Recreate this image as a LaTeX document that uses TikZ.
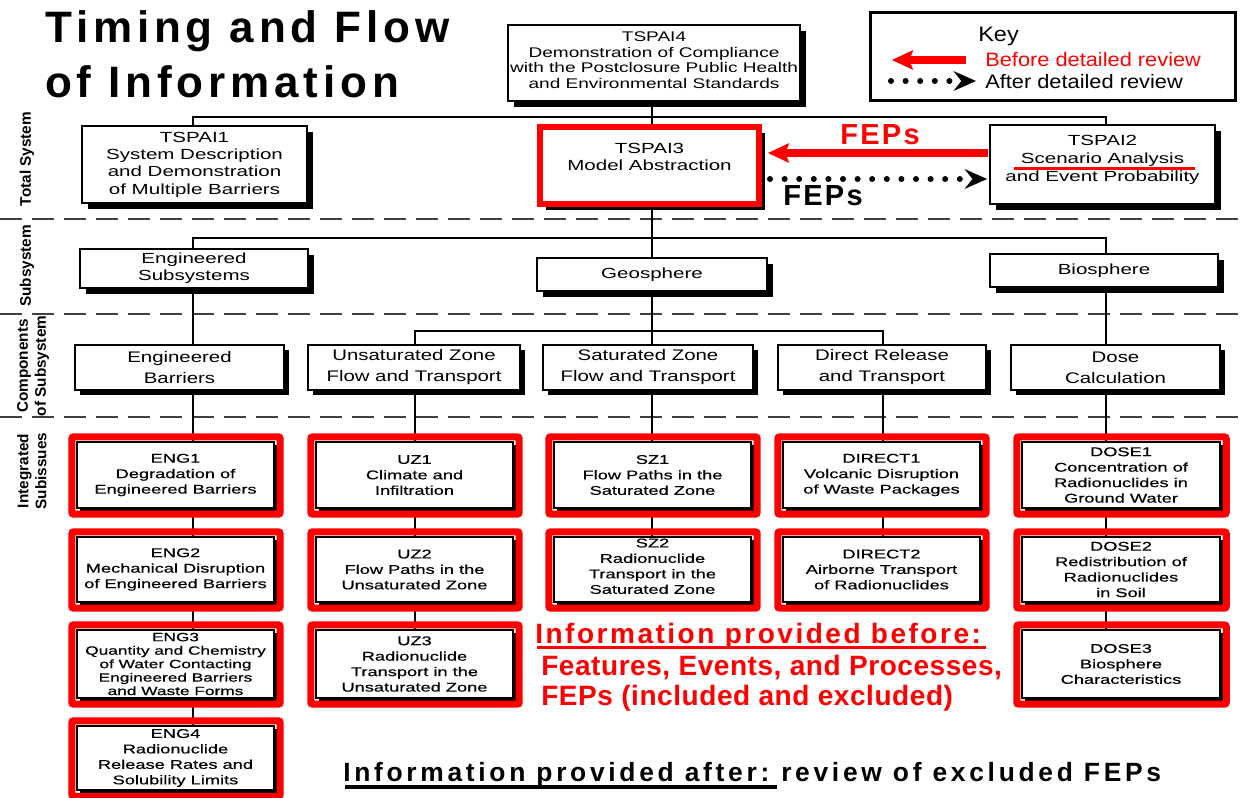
\documentclass[tikz,border=0pt]{standalone}
\usepackage{fontspec}
\setmainfont{Liberation Sans}
\newfontfamily\fTitle[LetterSpace=11]{Liberation Sans}
\newfontfamily\fTop[FakeStretch=1.40]{Liberation Sans}
\newfontfamily\fFour[FakeStretch=1.36]{Liberation Sans}
\newfontfamily\fComp[FakeStretch=1.33]{Liberation Sans}
\newfontfamily\fIss[FakeStretch=1.44,FakeBold=0.5]{Liberation Sans}
\newfontfamily\fKey[FakeStretch=1.12]{Liberation Sans}
\newfontfamily\fFeps[LetterSpace=8]{Liberation Sans}
\newfontfamily\fRedA[LetterSpace=9]{Liberation Sans}
\newfontfamily\fRedB[LetterSpace=2]{Liberation Sans}
\newfontfamily\fAfter[LetterSpace=14]{Liberation Sans}
\newfontfamily\fLab{Liberation Sans}
\usetikzlibrary{arrows.meta,shadows,calc,backgrounds}
\newdimen\px \px=0.75pt
\begin{document}
\begin{tikzpicture}[x=0.75pt,y=-0.75pt,
  conn/.style={draw=black, line width=1.2pt},
  secline/.style={draw=black!75, line width=1.5pt, dash pattern=on 16.5pt off 7.5pt},
  shad/.style={drop shadow={shadow xshift=#1, shadow yshift=-#1, fill=black, opacity=1}},
  topbox/.style={draw=black, line width=1.3pt, fill=white, inner sep=0pt, align=center, shad=4.5pt,
     font={\fTop\fontsize{11pt}{13pt}\selectfont}},
  fourbox/.style={topbox, font={\fFour\fontsize{10.5pt}{11.6pt}\selectfont}},
  compbox/.style={draw=black, line width=1.3pt, fill=white, inner sep=0pt, align=center, shad=4pt,
     minimum height=45\px, font={\fComp\fontsize{11.5pt}{15.75pt}\selectfont}},
  iss/.style={draw=black, line width=1.1pt, fill=white, inner sep=0pt, align=center, shad=2.5pt,
     minimum width=197\px, font={\fIss\fontsize{9.5pt}{11.6pt}\selectfont}},
  redframe/.style={draw=red, line width=5.25pt, rounded corners=1.5pt},
  txt/.style={anchor=base west, inner sep=0pt},
  lab/.style={rotate=90, inner sep=0pt, align=center, font={\fLab\bfseries\fontsize{11.5pt}{13.5pt}\selectfont}},
  redarrow/.style={draw=red, line width=6pt, -{Stealth[length=16pt, width=15pt, inset=3pt, line width=0pt]}},
  dotarrow/.style={draw=black, line width=4.5pt, line cap=round, dash pattern=on 0pt off 10.95pt,
     -{Stealth[length=17pt, width=15pt, inset=6pt, line width=0pt]}}
]
\useasboundingbox (0,0) rectangle (1248,797);
\begin{pgfonlayer}{background}
  \fill[white] (0,0) rectangle (1248,797);
\end{pgfonlayer}

% column and row helper coordinates
\coordinate (c1) at (193,0);
\coordinate (c2) at (415,0);
\coordinate (c3) at (652,0);
\coordinate (c4) at (883,0);
\coordinate (c5) at (1106,0);
\coordinate (h1) at (0,117);
\coordinate (h2) at (0,238);
\coordinate (h3) at (0,331);

% title
\node[txt, font={\fTitle\bfseries\fontsize{33pt}{40pt}\selectfont}] (title1) at (45,42) {Timing and Flow};
\node[txt, font={\fTitle\bfseries\fontsize{33pt}{40pt}\selectfont}] (title2) at (45,97) {of Information};

% key
\node[draw=black, line width=2.25pt, minimum width=365\px, minimum height=88\px, inner sep=0pt] (key) at (1053,56.5) {};
\node[txt, font={\fKey\fontsize{15.75pt}{18pt}\selectfont}] (keyt) at (978,41) {Key};
\node[txt, text=red, font={\fKey\fontsize{14.6pt}{17pt}\selectfont}] (keyb) at (985,66) {Before detailed review};
\node[txt, font={\fKey\fontsize{14.6pt}{17pt}\selectfont}] (keya) at (985,88) {After detailed review};
\coordinate (kr1) at (966,60);
\coordinate (kr2) at (892,60);
\draw[redarrow] (kr1) -- (kr2);
\coordinate (kd1) at (891,81);
\coordinate (kd2) at (976,81);
\draw[dotarrow] (kd1) -- (kd2);

% total system row
\node[fourbox, minimum width=292\px, minimum height=76\px, text depth=4.5pt] (tspai4) at (654,63)
  {TSPAI4\\Demonstration of Compliance\\with the Postclosure Public Health\\and Environmental Standards};
\node[topbox, minimum width=225\px, minimum height=77\px] (tspai1) at (194.5,164.5)
  {TSPAI1\\System Description\\and Demonstration\\of Multiple Barriers};
\node[topbox, draw=red, line width=4.5pt, minimum width=219\px, minimum height=77\px] (tspai3) at (649.5,165.5)
  {TSPAI3\\Model Abstraction\\\mbox{}};
\node[topbox, minimum width=225\px, minimum height=79\px, text depth=8.5pt, font={\fTop\fontsize{11pt}{13.5pt}\selectfont}] (tspai2) at (1102.5,164.5)
  {TSPAI2\\Scenario Analysis\\and Event Probability};
\draw[red, line width=2.25pt] ($(tspai2.north west)+(25,44)$) -- ($(tspai2.north west)+(206,44)$);

\draw[redarrow] ($(tspai2.west)+(-1,-11.5)$) -- ($(tspai3.east)+(6,-12.5)$);
\draw[dotarrow] ($(tspai3.east)+(8,13.5)$) -- ($(tspai2.west)+(-2,14.5)$);
\node[txt, text=red, font={\fFeps\bfseries\fontsize{21.75pt}{24pt}\selectfont}] (fepr) at (840,144) {FEPs};
\node[txt, font={\fFeps\bfseries\fontsize{21.75pt}{24pt}\selectfont}] (fepb) at (783,205) {FEPs};

% subsystem row
\node[topbox, minimum width=228\px, minimum height=39\px] (es) at (194,268.5) {Engineered\\Subsystems};
\node[topbox, minimum width=230\px, minimum height=33\px] (geo) at (652,274.5) {Geosphere};
\node[topbox, minimum width=228\px, minimum height=33\px] (bio) at (1104,270.5) {Biosphere};

% components row
\node[compbox, minimum width=209\px] (eb) at (179.5,367.5) {Engineered\\Barriers};
\node[compbox, minimum width=212\px] (uz) at (414,367.5) {Unsaturated Zone\\Flow and Transport};
\node[compbox, minimum width=210\px] (sz) at (648,367.5) {Saturated Zone\\Flow and Transport};
\node[compbox, minimum width=208\px] (dr) at (882,367.5) {Direct Release\\and Transport};
\node[compbox, minimum width=209\px] (dose) at (1115.5,367.5) {Dose\\Calculation};

% integrated subissues
\node[iss, minimum height=66\px] (eng1) at (175.5,475) {ENG1\\Degradation of\\Engineered Barriers};
\node[iss, minimum height=65\px] (eng2) at (175.5,569.5) {ENG2\\Mechanical Disruption\\of Engineered Barriers};
\node[iss, minimum height=68\px, font={\fIss\fontsize{9pt}{10.1pt}\selectfont}] (eng3) at (175.5,664)
  {ENG3\\Quantity and Chemistry\\of Water Contacting\\Engineered Barriers\\and Waste Forms};
\node[iss, minimum height=64\px] (eng4) at (175.5,758) {ENG4\\Radionuclide\\Release Rates and\\Solubility Limits};
\node[iss, minimum height=66\px] (uz1) at (414.5,475) {UZ1\\Climate and\\Infiltration};
\node[iss, minimum height=65\px] (uz2) at (414.5,569.5) {UZ2\\Flow Paths in the\\Unsaturated Zone};
\node[iss, minimum height=68\px] (uz3) at (414.5,664) {UZ3\\Radionuclide\\Transport in the\\Unsaturated Zone};
\node[iss, minimum height=66\px] (sz1) at (652.5,475) {SZ1\\Flow Paths in the\\Saturated Zone};
\node[iss, minimum height=65\px, text depth=5pt] (sz2) at (652.5,569.5) {SZ2\\Radionuclide\\Transport in the\\Saturated Zone};
\node[iss, minimum height=66\px] (dir1) at (881.5,475) {DIRECT1\\Volcanic Disruption\\of Waste Packages};
\node[iss, minimum height=65\px] (dir2) at (881.5,569.5) {DIRECT2\\Airborne Transport\\of Radionuclides};
\node[iss, minimum height=66\px, minimum width=198\px] (dose1) at (1121,475) {DOSE1\\Concentration of\\Radionuclides in\\Ground Water};
\node[iss, minimum height=65\px, minimum width=198\px] (dose2) at (1121,569.5) {DOSE2\\Redistribution of\\Radionuclides\\in Soil};
\node[iss, minimum height=68\px, minimum width=198\px] (dose3) at (1121,664) {DOSE3\\Biosphere\\Characteristics};

\foreach \n in {eng1,eng2,eng3,eng4,uz1,uz2,uz3,sz1,sz2,dir1,dir2,dose1,dose2,dose3}{
  \draw[redframe] ($(\n.north west)+(-4.5,-4.5)$) rectangle ($(\n.south east)+(5.5,5.5)$);
}

% left labels
\node[lab] (lab1) at (27,159) {Total System};
\node[lab] (lab2) at (27,266) {Subsystem};
\node[lab] (lab3) at (33,366) {Components\\of Subsystem};
\node[lab] (lab4) at (32,471) {Integrated\\Subissues};

% red information text
\node[txt, text=red, font={\fRedA\bfseries\fontsize{21pt}{24pt}\selectfont}] (reda) at (535,643) {Information provided before:};
\draw[red, line width=2.25pt] ($(reda.base west)+(2,4)$) -- ($(reda.base west)+(451,4)$);
\node[txt, text=red, font={\fRedB\bfseries\fontsize{21pt}{24pt}\selectfont}] (redb) at (541,675) {Features, Events, and Processes,};
\node[txt, text=red, font={\fRedB\bfseries\fontsize{21pt}{24pt}\selectfont}] (redc) at (541,705) {FEPs (included and excluded)};

% bottom text
\node[txt, font={\fAfter\bfseries\fontsize{19.8pt}{22pt}\selectfont}] (aft1) at (343,781) {Information provided after:};
\draw[black, line width=3pt] ($(aft1.base west)+(2,6)$) -- ($(aft1.base west)+(434,6)$);
\node[txt, font={\fAfter\bfseries\fontsize{19.8pt}{22pt}\selectfont}] (aft2) at (781,781) {review of excluded FEPs};

% connectors and section lines
\begin{pgfonlayer}{background}
  \draw[secline] (0,219) -- (1248,219);
  \draw[secline] (0,314) -- (1248,314);
  \draw[secline] (0,417) -- (1248,417);
  \draw[conn] (c3 |- tspai4.south) -- (c3 |- tspai3.north);
  \draw[conn] (c1 |- tspai1.north) -- (c1 |- h1) -- (c5 |- h1) -- (c5 |- tspai2.north);
  \draw[conn] (c3 |- tspai3.south) -- (c3 |- geo.north);
  \draw[conn] (c1 |- es.north) -- (c1 |- h2) -- (c5 |- h2) -- (c5 |- bio.north);
  \draw[conn] (c1 |- es.south) -- (c1 |- eb.north);
  \draw[conn] (c3 |- geo.south) -- (c3 |- sz.north);
  \draw[conn] (c2 |- uz.north) -- (c2 |- h3) -- (c4 |- h3) -- (c4 |- dr.north);
  \draw[conn] (c5 |- bio.south) -- (c5 |- dose.north);
  \draw[conn] (c1 |- eb.south) -- (c1 |- eng1.north);
  \draw[conn] (c1 |- eng1.south) -- (c1 |- eng2.north);
  \draw[conn] (c1 |- eng2.south) -- (c1 |- eng3.north);
  \draw[conn] (c1 |- eng3.south) -- (c1 |- eng4.north);
  \draw[conn] (c2 |- uz.south) -- (c2 |- uz1.north);
  \draw[conn] (c2 |- uz1.south) -- (c2 |- uz2.north);
  \draw[conn] (c2 |- uz2.south) -- (c2 |- uz3.north);
  \draw[conn] (c3 |- sz.south) -- (c3 |- sz1.north);
  \draw[conn] (c3 |- sz1.south) -- (c3 |- sz2.north);
  \draw[conn] (c4 |- dr.south) -- (c4 |- dir1.north);
  \draw[conn] (c4 |- dir1.south) -- (c4 |- dir2.north);
  \draw[conn] (c5 |- dose.south) -- (c5 |- dose1.north);
  \draw[conn] (c5 |- dose1.south) -- (c5 |- dose2.north);
  \draw[conn] (c5 |- dose2.south) -- (c5 |- dose3.north);
\end{pgfonlayer}
\end{tikzpicture}
\end{document}
